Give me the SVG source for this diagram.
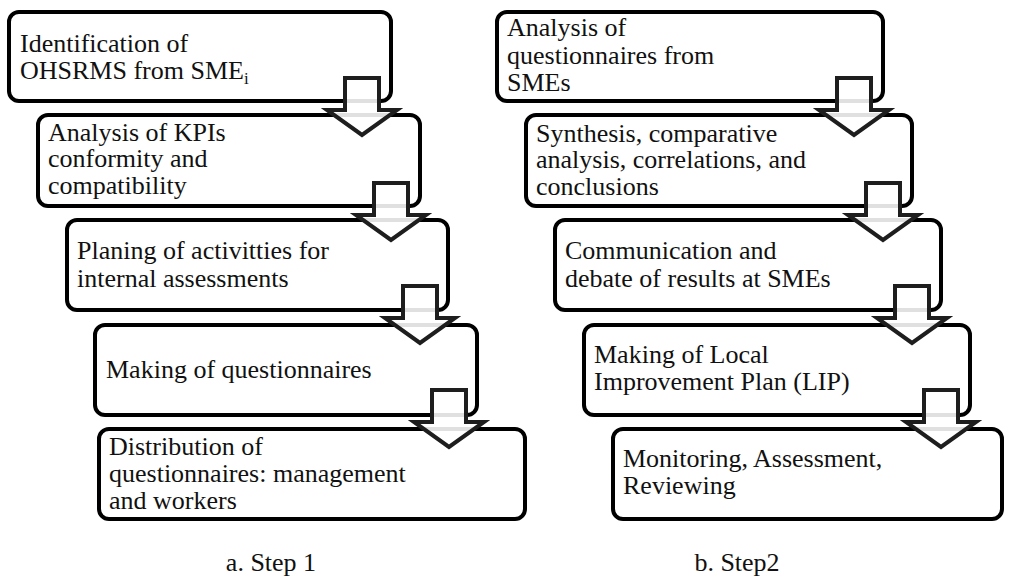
<svg xmlns="http://www.w3.org/2000/svg" xmlns:xlink="http://www.w3.org/1999/xlink" width="1011" height="576" viewBox="0 0 1011 576">
  <style>
    .box { fill: #ffffff; stroke: #000000; stroke-width: 4; }
    .lbl { font-family: "Liberation Serif", "Times New Roman", serif; font-size: 26px; fill: #111111; }
    .sub { font-size: 17px; }
    .arrow { fill: #ffffff; fill-opacity: 0.88; stroke: #1e1e1e; stroke-width: 4; stroke-linejoin: miter; }
  </style>
  <defs>
    <!-- block arrow pointing down; origin at top centre of the shaft -->
    <path id="downArrow" d="M-17,0 H17 V32 H35 L0,57 L-35,32 H-17 Z"/>
  </defs>
  <rect width="1011" height="576" fill="#ffffff"/>

  <!-- Step 1 -->
  <g id="s1-identification">
    <rect class="box" x="9" y="12" width="382" height="89" rx="10"/>
    <text class="lbl" x="20" y="52">Identification of</text>
    <text class="lbl" x="20" y="79">OHSRMS from SME<tspan class="sub" dy="5">i</tspan></text>
  </g>
  <g id="s1-kpi-analysis">
    <rect class="box" x="38" y="115" width="382" height="91" rx="10"/>
    <text class="lbl" x="48" y="141">Analysis of KPIs</text>
    <text class="lbl" x="48" y="167">conformity and</text>
    <text class="lbl" x="48" y="194">compatibility</text>
  </g>
  <g id="s1-planning">
    <rect class="box" x="67" y="220" width="381" height="90" rx="10"/>
    <text class="lbl" x="77" y="259">Planing of activitties for</text>
    <text class="lbl" x="77" y="287">internal assessments</text>
  </g>
  <g id="s1-questionnaires">
    <rect class="box" x="95" y="325" width="382" height="90" rx="10"/>
    <text class="lbl" x="106" y="378">Making of questionnaires</text>
  </g>
  <g id="s1-distribution">
    <rect class="box" x="99" y="429" width="426" height="90" rx="10"/>
    <text class="lbl" x="109" y="455">Distribution of</text>
    <text class="lbl" x="109" y="482">questionnaires: management</text>
    <text class="lbl" x="109" y="509">and workers</text>
  </g>

  <!-- Step 2 -->
  <g id="s2-analysis">
    <rect class="box" x="497" y="12" width="386" height="89" rx="10"/>
    <text class="lbl" x="507" y="36">Analysis of</text>
    <text class="lbl" x="507" y="64">questionnaires from</text>
    <text class="lbl" x="507" y="91">SMEs</text>
  </g>
  <g id="s2-synthesis">
    <rect class="box" x="526" y="115" width="386" height="91" rx="10"/>
    <text class="lbl" x="536" y="142">Synthesis, comparative</text>
    <text class="lbl" x="536" y="168">analysis, correlations, and</text>
    <text class="lbl" x="536" y="195">conclusions</text>
  </g>
  <g id="s2-communication">
    <rect class="box" x="555" y="220" width="386" height="90" rx="10"/>
    <text class="lbl" x="565" y="259">Communication and</text>
    <text class="lbl" x="565" y="287">debate of results at SMEs</text>
  </g>
  <g id="s2-lip">
    <rect class="box" x="584" y="325" width="386" height="90" rx="10"/>
    <text class="lbl" x="594" y="363">Making of Local</text>
    <text class="lbl" x="594" y="390">Improvement Plan (LIP)</text>
  </g>
  <g id="s2-monitoring">
    <rect class="box" x="613" y="429" width="389" height="90" rx="10"/>
    <text class="lbl" x="623" y="467">Monitoring, Assessment,</text>
    <text class="lbl" x="623" y="494">Reviewing</text>
  </g>

  <!-- connectors between consecutive steps -->
  <g id="connectors">
    <use class="arrow" xlink:href="#downArrow" x="362" y="78"/>
    <use class="arrow" xlink:href="#downArrow" x="391" y="183"/>
    <use class="arrow" xlink:href="#downArrow" x="420" y="286"/>
    <use class="arrow" xlink:href="#downArrow" x="449" y="390"/>
    <use class="arrow" xlink:href="#downArrow" x="854" y="78"/>
    <use class="arrow" xlink:href="#downArrow" x="883" y="183"/>
    <use class="arrow" xlink:href="#downArrow" x="912" y="286"/>
    <use class="arrow" xlink:href="#downArrow" x="941" y="390"/>
  </g>

  <!-- captions -->
  <text class="lbl" x="271" y="571" text-anchor="middle">a. Step 1</text>
  <text class="lbl" x="737" y="571" text-anchor="middle">b. Step2</text>
</svg>
